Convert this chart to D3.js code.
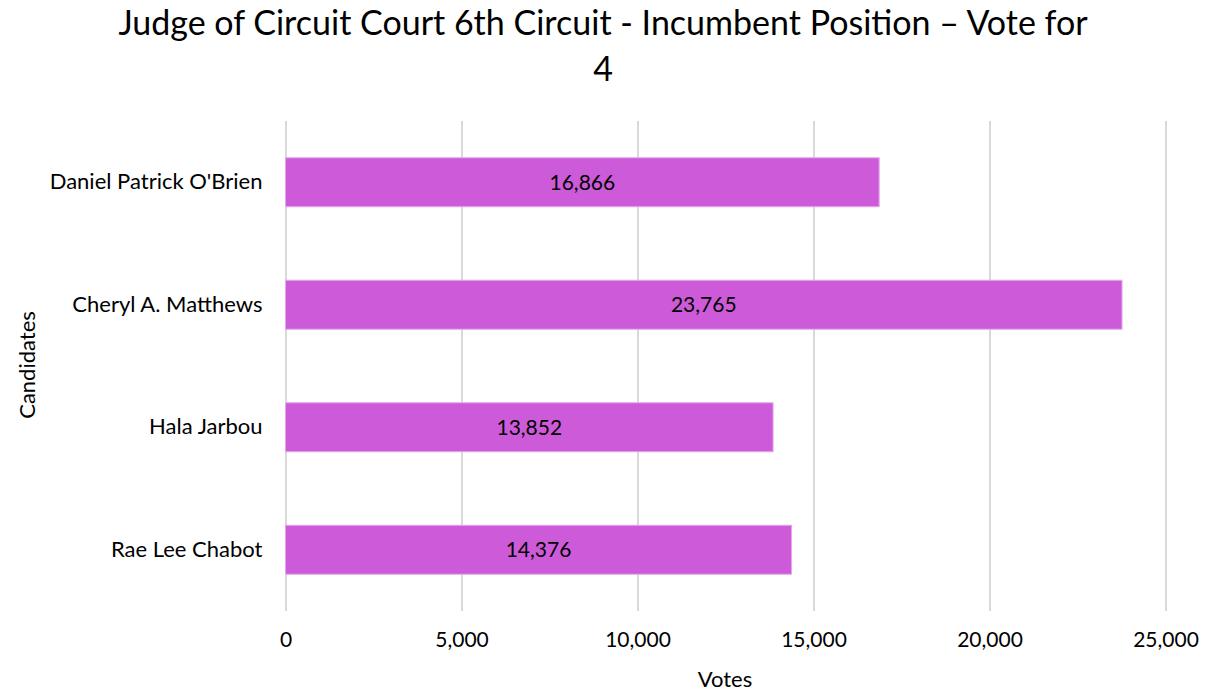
<!DOCTYPE html>
<html><head><meta charset="utf-8">
<script src="https://cdn.jsdelivr.net/npm/d3@7"></script>
<style>
html,body{margin:0;padding:0;background:#fff;}
text{font-family:Lato,"Open Sans",sans-serif;fill:#000;}
</style></head>
<body>
<svg id="c" width="1222" height="692"></svg>
<script>
const titleLines = ["Judge of Circuit Court 6th Circuit - Incumbent Position \u2013 Vote for", "4"];
const candidates = ["Daniel Patrick O'Brien", "Cheryl A. Matthews", "Hala Jarbou ", "Rae Lee Chabot"];
const votes = [16866, 23765, 13852, 14376];
const xTicks = [0, 5000, 10000, 15000, 20000, 25000];
const xTitle = "Votes";
const yTitle = "Candidates";

const svg = d3.select("#c");
const m = {left: 285.5, right: 1165.5, top: 121, bottom: 611};
const x = d3.scaleLinear().domain([0, 25000]).range([m.left, m.right]);
const y = d3.scaleBand().domain(candidates).range([m.top, m.bottom]).paddingInner(0.6).paddingOuter(0.3);
const fmt = d3.format(",");

// title
const tt = svg.append("g");
titleLines.forEach((t, i) => {
  tt.append("text").attr("x", 603).attr("y", 35 + i * 46).attr("text-anchor", "middle")
    .style("font-size", "34px").text(t);
});

// grid
const xAxis = d3.axisBottom(x).tickValues(xTicks).tickSize(-(m.bottom - m.top)).tickFormat(fmt).tickPadding(21);
const gx = svg.append("g").attr("transform", `translate(0,${m.bottom})`).call(xAxis);
gx.select(".domain").remove();
gx.selectAll(".tick line").attr("stroke", "#d9d9d9").attr("stroke-width", 2);
gx.selectAll(".tick text").style("font-size", "21px").attr("fill", "#000");

// bars
svg.append("g").selectAll("rect").data(candidates).join("rect")
  .attr("x", x(0)).attr("y", d => y(d))
  .attr("width", (d, i) => x(votes[i]) - x(0)).attr("height", y.bandwidth())
  .attr("fill", "#CD5BD9").attr("stroke", "#e6a8ec").attr("stroke-width", 1);

// data labels
svg.append("g").selectAll("text").data(candidates).join("text")
  .attr("x", (d, i) => (x(0) + x(votes[i])) / 2)
  .attr("y", d => y(d) + y.bandwidth() / 2).attr("dy", "0.35em")
  .attr("text-anchor", "middle").style("font-size", "21px")
  .text((d, i) => fmt(votes[i]));

// y axis
const gy = svg.append("g").attr("transform", `translate(${m.left},0)`)
  .call(d3.axisLeft(y).tickSize(0).tickPadding(23));
gy.select(".domain").remove();
gy.selectAll(".tick text").style("font-size", "22px").attr("fill", "#000");

// axis titles
svg.append("text").attr("x", 725).attr("y", 687).attr("text-anchor", "middle")
  .style("font-size", "22px").text(xTitle);
svg.append("text").attr("transform", "translate(35,365) rotate(-90)").attr("text-anchor", "middle")
  .style("font-size", "22px").text(yTitle);
</script>
</body></html>
